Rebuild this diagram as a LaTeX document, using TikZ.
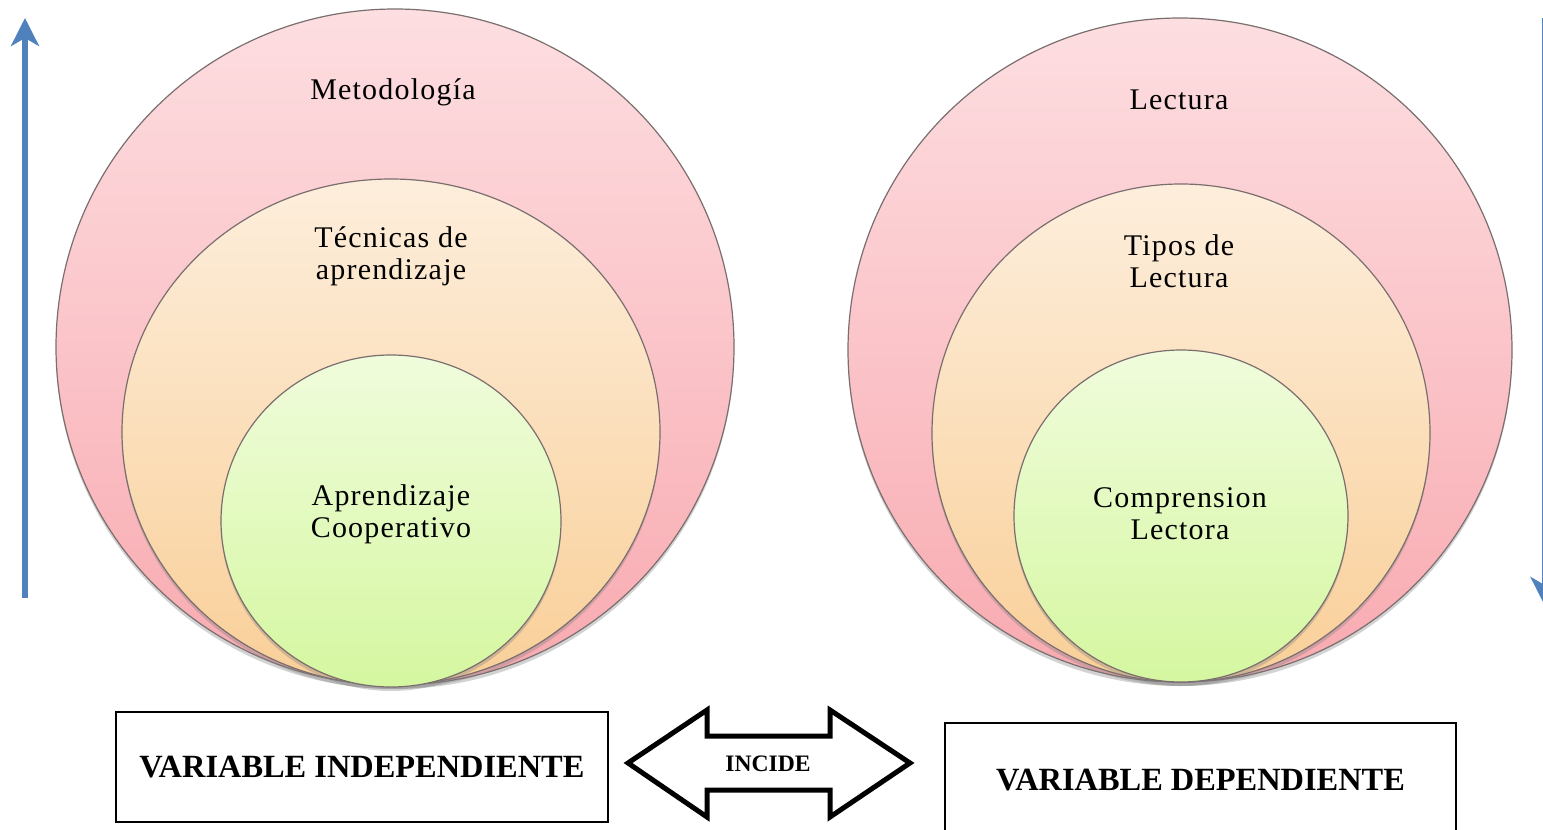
\documentclass[tikz,border=0pt]{standalone}
\usepackage{fontspec}
\setmainfont{Liberation Serif}
\newfontfamily\anillofont[LetterSpace=4]{Liberation Serif}
\usetikzlibrary{arrows.meta,shapes.geometric,shadows}
\definecolor{outertop}{HTML}{FDDEE1}
\definecolor{outerbot}{HTML}{F8AAB0}
\definecolor{midtop}{HTML}{FDEEDC}
\definecolor{midbot}{HTML}{F9CF98}
\definecolor{innertop}{HTML}{F0FCDC}
\definecolor{innerbot}{HTML}{D5F7A0}
\definecolor{ringline}{HTML}{7A6E6E}
\definecolor{flechaazul}{HTML}{4F81BD}
\tikzset{
	>={Stealth[length=14pt,width=14pt,inset=4pt]},
	ring/.style={
		ellipse,
		draw=ringline, line width=0.6pt,
		inner sep=0pt,
		drop shadow={shadow xshift=0pt, shadow yshift=-2pt, opacity=0.35}},
	outerring/.style={ring, top color=outertop, bottom color=outerbot},
	midring/.style={ring, top color=midtop, bottom color=midbot},
	innerring/.style={ring, top color=innertop, bottom color=innerbot},
	etiqueta/.style={align=center, font=\anillofont\fontsize{15}{16}\selectfont},
	varbox/.style={
		rectangle,
		draw=black, line width=0.8pt,
		font=\bfseries\fontsize{16.2}{18}\selectfont},
	flecha/.style={draw=flechaazul, line width=3pt, ->},
	dobleflecha/.style={draw=black, line width=2.5pt, line join=miter, fill=white},
}
\begin{document}
\begin{tikzpicture}[x=0.5pt, y=-0.5pt]
	\useasboundingbox (0,0) rectangle (1543,830);
	% variable independiente
	\node[outerring, minimum width=339pt, minimum height=338pt] (metodo) at (395,347) {};
	\node[midring, minimum width=269pt, minimum height=253pt] (tecnicas) at (391,432) {};
	\node[innerring, minimum width=170pt, minimum height=166pt] (coop) at (391,521) {};
	\node[etiqueta] (tmetodo) at (393,92) {Metodología};
	\node[etiqueta] (ttecnicas) at (391,256) {Técnicas de\\aprendizaje};
	\node[etiqueta] (tcoop) at (391,514) {Aprendizaje\\Cooperativo};
	% variable dependiente
	\node[outerring, minimum width=332pt, minimum height=332pt] (lectura) at (1180,350) {};
	\node[midring, minimum width=249pt, minimum height=249pt] (tipos) at (1181,433) {};
	\node[innerring, minimum width=167pt, minimum height=166pt] (compren) at (1181,516) {};
	\node[etiqueta] (tlectura) at (1179,100) {Lectura};
	\node[etiqueta] (ttipos) at (1179,261) {Tipos de\\Lectura};
	\node[etiqueta] (tcompren) at (1180,514) {Comprension\\Lectora};
	% flechas laterales
	\coordinate (abot) at (25,598);
	\coordinate (atop) at (25,18);
	\coordinate (dtop) at (1544.5,18);
	\coordinate (dbot) at (1544.5,605);
	\draw[flecha] (abot) -- (atop);
	\draw[flecha] (dtop) -- (dbot);
	% cajas
	\node[varbox, minimum width=246pt, minimum height=55pt] (vind) at (362,767) {VARIABLE INDEPENDIENTE};
	\node[varbox, minimum width=255.5pt, minimum height=57pt] (vdep) at (1200.5,780) {VARIABLE DEPENDIENTE};
	% incide
	\draw[dobleflecha] (628,763) -- (707,710) -- (707,736) -- (830,736) -- (830,710)
		-- (910,763) -- (830,817) -- (830,790) -- (707,790) -- (707,817) -- cycle;
	\node[font=\bfseries\fontsize{11.8}{13}\selectfont] (incide) at (768,764) {INCIDE};
\end{tikzpicture}
\end{document}
